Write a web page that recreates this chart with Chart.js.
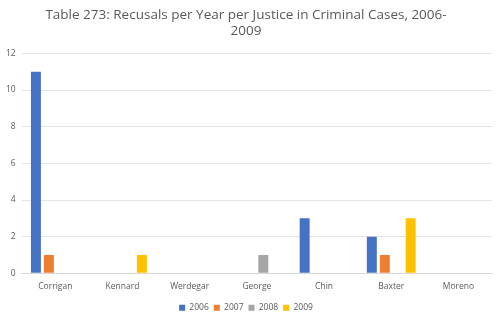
<!DOCTYPE html>
<html><head><meta charset="utf-8">
<script src="https://cdn.jsdelivr.net/npm/chart.js@4/dist/chart.umd.min.js"></script>
<style>html,body{margin:0;padding:0;background:#fff}#wrap{width:500px;height:322px}</style>
</head><body><div id="wrap"><canvas id="c"></canvas></div>
<script>
const categories = ["Corrigan","Kennard","Werdegar","George","Chin","Baxter","Moreno"];
const years = ["2006","2007","2008","2009"];
const v2006 = [11,0,0,0,3,2,0];
const v2007 = [1,0,0,0,0,1,0];
const v2008 = [0,0,0,1,0,0,0];
const v2009 = [0,1,0,0,0,3,0];
const colors = ["#4472C4","#ED7D31","#A5A5A5","#FFC000"];
const yTicks = [0,2,4,6,8,10,12];
const series = [v2006,v2007,v2008,v2009];
const font = "'Open Sans', 'Liberation Sans', sans-serif";
new Chart(document.getElementById('c'), {
  type: 'bar',
  data: {
    labels: categories,
    datasets: series.map((d,i)=>({label: years[i], data: d, backgroundColor: colors[i], categoryPercentage: 0.77, barPercentage: 0.77}))
  },
  options: {
    responsive: true, maintainAspectRatio: false, animation: false,
    layout: {padding: {left: 0, right: 8, top: 6, bottom: 0}},
    plugins: {
      title: {display: true, text: ["Table 273: Recusals per Year per Justice in Criminal Cases, 2006-","2009"],
        color: '#595959', font: {family: font, size: 13.5, weight: 'normal'}, padding: {top: 1, bottom: 14}, lineHeight: 1.3},
      legend: {position: 'bottom', labels: {boxWidth: 6, boxHeight: 6, color: '#595959', font: {family: font, size: 8.5}, padding: 5}},
      tooltip: {enabled: false}
    },
    scales: {
      x: {grid: {display: false}, border: {color: '#d9d9d9'}, ticks: {color: '#595959', font: {family: font, size: 8.5}, padding: 0},
        afterFit: s => { s.height += 7; }},
      y: {min: 0, max: 12, afterBuildTicks: ax => { ax.ticks = yTicks.map(v=>({value:v})); },
        grid: {color: '#e4e4e4', drawTicks: false}, border: {display: false},
        ticks: {color: '#595959', font: {family: font, size: 8.5}, padding: 6}}
    }
  }
});
</script></body></html>
